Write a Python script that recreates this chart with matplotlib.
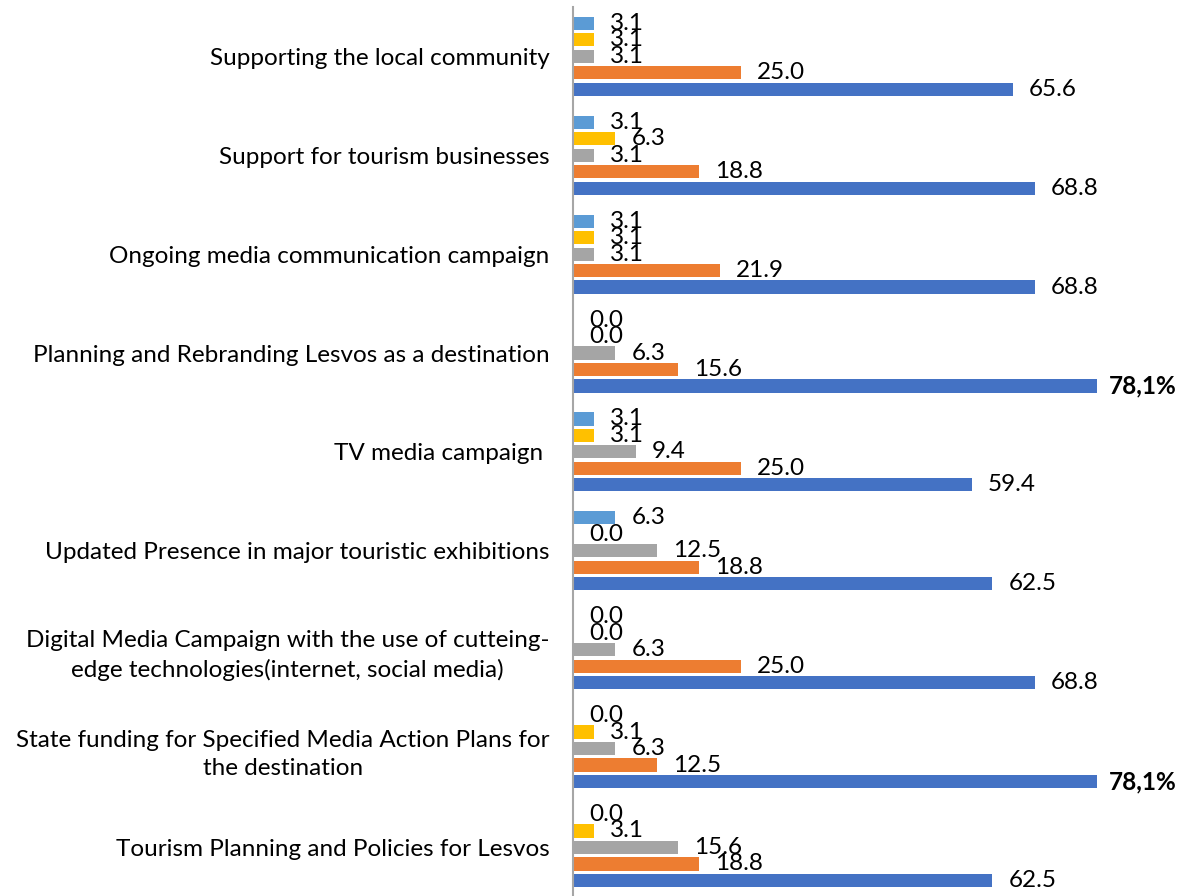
import numpy as np
import matplotlib.pyplot as plt

plt.rcParams['font.family'] = ['Lato', 'DejaVu Sans']

categories = [
    'Supporting the local community',
    'Support for tourism businesses',
    'Ongoing media communication campaign',
    'Planning and Rebranding Lesvos as a destination',
    'TV media campaign ',
    'Updated Presence in major touristic exhibitions',
    'Digital Media Campaign with the use of cutteing-\nedge technologies(internet, social media)',
    'State funding for Specified Media Action Plans for\nthe destination',
    'Tourism Planning and Policies for Lesvos',
]

# five answer groups, top to bottom inside each category
s1 = [3.1, 3.1, 3.1, 0.0, 3.1, 6.3, 0.0, 0.0, 0.0]
s2 = [3.1, 6.3, 3.1, 0.0, 3.1, 0.0, 0.0, 3.1, 3.1]
s3 = [3.1, 3.1, 3.1, 6.3, 9.4, 12.5, 6.3, 6.3, 15.6]
s4 = [25.0, 18.8, 21.9, 15.6, 25.0, 18.8, 25.0, 12.5, 18.8]
s5 = [65.6, 68.8, 68.8, 78.1, 59.4, 62.5, 68.8, 78.1, 62.5]

series = [s1, s2, s3, s4, s5]
colors = ['#5B9BD5', '#FFC000', '#A5A5A5', '#ED7D31', '#4472C4']

fig = plt.figure(figsize=(11.88, 8.96), dpi=100)
ax = fig.add_axes([573 / 1188, -0.001, 604 / 1188, 1 - 6 / 896])

y = np.arange(len(categories))
slot = 1 / 6
top = max(s5)
fs = 17.5
for j, (vals, c) in enumerate(zip(series, colors)):
    pos = y + (j - 2) * slot
    ax.barh(pos, vals, height=slot * 0.8, color=c)
    for p, v in zip(pos, vals):
        if v == top:
            ax.annotate('78,1%', (v, p), xytext=(12, 0), textcoords='offset pixels',
                        va='center', ha='left', fontsize=fs, fontweight='bold')
        else:
            ax.annotate(f'{v:.1f}', (v, p), xytext=(16, 0), textcoords='offset pixels',
                        va='center', ha='left', fontsize=fs)

ax.set_ylim(len(categories) - 0.5, -0.5)
ax.set_xlim(0, 90)
ax.set_yticks(y)
ax.set_yticklabels(categories, fontsize=fs, multialignment='center', linespacing=1.45)
ax.tick_params(axis='y', length=0, pad=17)
ax.set_xticks([])
for s in ['top', 'right', 'bottom']:
    ax.spines[s].set_visible(False)
ax.spines['left'].set_color('#A6A6A6')
ax.spines['left'].set_linewidth(1.5)

fig.savefig('out.png', dpi=100)
